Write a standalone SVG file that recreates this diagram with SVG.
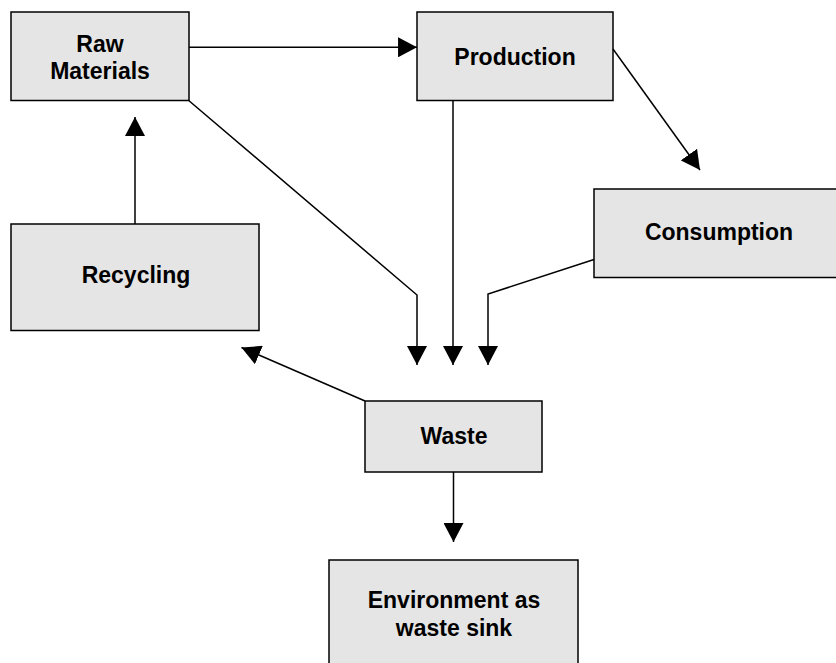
<svg xmlns="http://www.w3.org/2000/svg" width="836" height="663" viewBox="0 0 836 663">
<defs>
<style>
.box{fill:#e5e5e5;stroke:#000;stroke-width:1.5}
.lbl{font-family:"Liberation Sans",Arial,sans-serif;font-weight:bold;font-size:23px;fill:#000;text-anchor:middle}
.con{fill:none;stroke:#000;stroke-width:1.5;marker-end:url(#ah)}
</style>
<marker id="ah" markerUnits="userSpaceOnUse" markerWidth="19" markerHeight="20" viewBox="0 0 18 19" refX="18" refY="9.5" orient="auto">
<path d="M0,0 L18,9.5 L0,19 Z" fill="#000"/>
</marker>
</defs>
<rect width="836" height="663" fill="#fff"/>
<g id="raw-materials">
<rect class="box" x="11" y="12" width="178" height="88.5"/>
<text class="lbl" x="100" y="52">Raw</text>
<text class="lbl" x="100" y="79">Materials</text>
</g>
<g id="production">
<rect class="box" x="417" y="12" width="196" height="88.5"/>
<text class="lbl" x="515" y="65">Production</text>
</g>
<g id="consumption">
<rect class="box" x="594" y="189" width="246" height="88.5"/>
<text class="lbl" x="719" y="240">Consumption</text>
</g>
<g id="recycling">
<rect class="box" x="11" y="224" width="248" height="106.5"/>
<text class="lbl" x="136" y="283">Recycling</text>
</g>
<g id="waste">
<rect class="box" x="365" y="401" width="177" height="71"/>
<text class="lbl" x="454" y="444">Waste</text>
</g>
<g id="environment">
<rect class="box" x="329" y="560" width="249" height="110"/>
<text class="lbl" x="454" y="608">Environment as</text>
<text class="lbl" x="454" y="636">waste sink</text>
</g>
<g id="connectors">
<path class="con" d="M189,47.3 L417,47.3"/>
<path class="con" d="M135,224 L135,117"/>
<path class="con" d="M189,100.7 L417,295 L417,365"/>
<path class="con" d="M453,100.7 L453,365"/>
<path class="con" d="M594,259.5 L488,294 L488,365"/>
<path class="con" d="M365,401 L241.5,347.5"/>
<path class="con" d="M613,49 L700,170"/>
<path class="con" d="M453.5,472 L453.5,542"/>
</g>
</svg>
